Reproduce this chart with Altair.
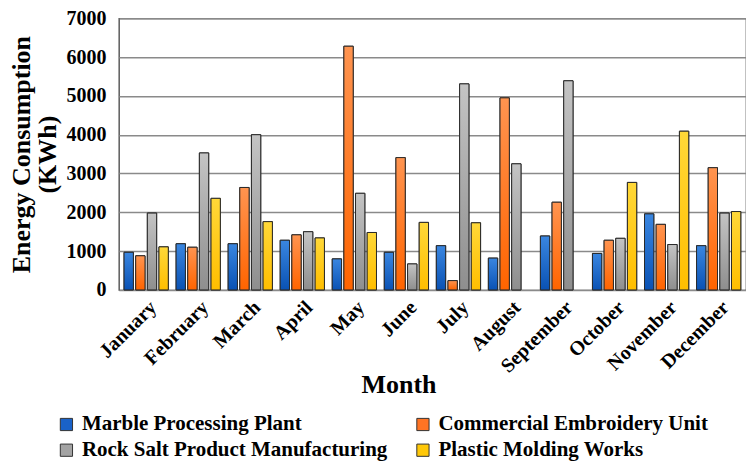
import altair as alt
import pandas as pd

months = ["January", "February", "March", "April", "May", "June", "July",
          "August", "September", "October", "November", "December"]
series = ["Marble Processing Plant", "Commercial Embroidery Unit",
          "Rock Salt Product Manufacturing", "Plastic Molding Works"]
marble = [970, 1190, 1190, 1280, 800, 970, 1140, 820, 1390, 940, 1960, 1140]
embroidery = [880, 1100, 2640, 1420, 6280, 3410, 240, 4950, 2260, 1280, 1690, 3150]
rocksalt = [1980, 3530, 4000, 1500, 2490, 670, 5310, 3250, 5390, 1330, 1170, 1980]
plastic = [1110, 2360, 1760, 1340, 1480, 1740, 1730, None, None, 2770, 4090, 2020]

colors = ["#1a62c8", "#ff7424", "#a3a3a3", "#ffc808"]
grad_top = ["#3a86e0", "#ff9450", "#c4c4c4", "#ffd838"]
grad_bot = ["#0a52b4", "#ff6400", "#8e8e8e", "#ffbe00"]

# legend is laid out column by column: order so rows read like the reference
legend_order = [series[0], series[2], series[1], series[3]]
legend_colors = [colors[0], colors[2], colors[1], colors[3]]

rows = []
for s, vals in zip(series, [marble, embroidery, rocksalt, plastic]):
    for m, v in zip(months, vals):
        if v is not None:
            rows.append({"month": m, "series": s, "value": v})
df = pd.DataFrame(rows)

FONT = "Liberation Serif"

x_enc = alt.X("month:N", sort=months,
              scale=alt.Scale(paddingInner=0.15, paddingOuter=0.1),
              axis=alt.Axis(title="Month", labelAngle=-45, labelFontSize=20,
                            labelFont=FONT, labelFontWeight="bold", labelColor="black",
                            labelPadding=7, ticks=False, tickSize=0, domain=False,
                            titleFont=FONT, titleFontSize=26, titleFontWeight="bold",
                            titleColor="black", titleX=280, titleY=95,
                            titleAlign="center", titleBaseline="middle"))
xo_enc = alt.XOffset("series:N", sort=series,
                     scale=alt.Scale(domain=series, paddingInner=0.2, paddingOuter=0))
y_enc = alt.Y("value:Q",
              scale=alt.Scale(domain=[0, 7000], nice=False),
              axis=alt.Axis(title=["Energy Consumption", "(KWh)"],
                            values=[0, 1000, 2000, 3000, 4000, 5000, 6000, 7000],
                            format="d",
                            labelFontSize=20, labelFont=FONT, labelFontWeight="bold",
                            labelColor="black", labelPadding=13, ticks=False, tickSize=0,
                            domain=False, grid=True, gridColor="#8a8a8a", gridWidth=1.5,
                            titleFont=FONT, titleFontSize=26, titleFontWeight="bold",
                            titleColor="black", titleLineHeight=26, titlePadding=5))

base = alt.Chart(df).mark_bar(stroke="#2a2a2a", strokeWidth=1).encode(
    x=x_enc, xOffset=xo_enc, y=y_enc,
    color=alt.Color("series:N", sort=legend_order,
                    scale=alt.Scale(domain=legend_order, range=legend_colors),
                    legend=alt.Legend(title=None, orient="none", legendX=-63, legendY=396,
                                      columns=2, columnPadding=25, rowPadding=4,
                                      labelFont=FONT, labelFontSize=21,
                                      labelFontWeight="bold", labelColor="black",
                                      labelLimit=500, labelOffset=5,
                                      symbolType="square", symbolSize=150,
                                      symbolStrokeColor="#333333", symbolStrokeWidth=1,
                                      symbolOpacity=1)),
)

layers = [base]
for s, t, b in zip(series, grad_top, grad_bot):
    g = alt.Gradient(gradient="linear",
                     stops=[alt.GradientStop(color=t, offset=0),
                            alt.GradientStop(color=b, offset=1)],
                     x1=0, x2=0, y1=0, y2=1)
    layers.append(
        alt.Chart(df).transform_filter(alt.datum.series == s)
        .mark_bar(fill=g, stroke="#2a2a2a", strokeWidth=1)
        .encode(x=x_enc, xOffset=xo_enc, y=y_enc)
    )

chart = alt.layer(*layers).properties(
    width=628, height=272,
    padding={"left": 0, "top": 0, "right": 0, "bottom": 0},
    background="white",
).configure_view(stroke="#333333", strokeWidth=1.2
).configure_legend(labelFont=FONT, labelFontWeight="bold", labelFontSize=21)

chart.save("out.html", embed_options={"renderer": "svg", "actions": False})
